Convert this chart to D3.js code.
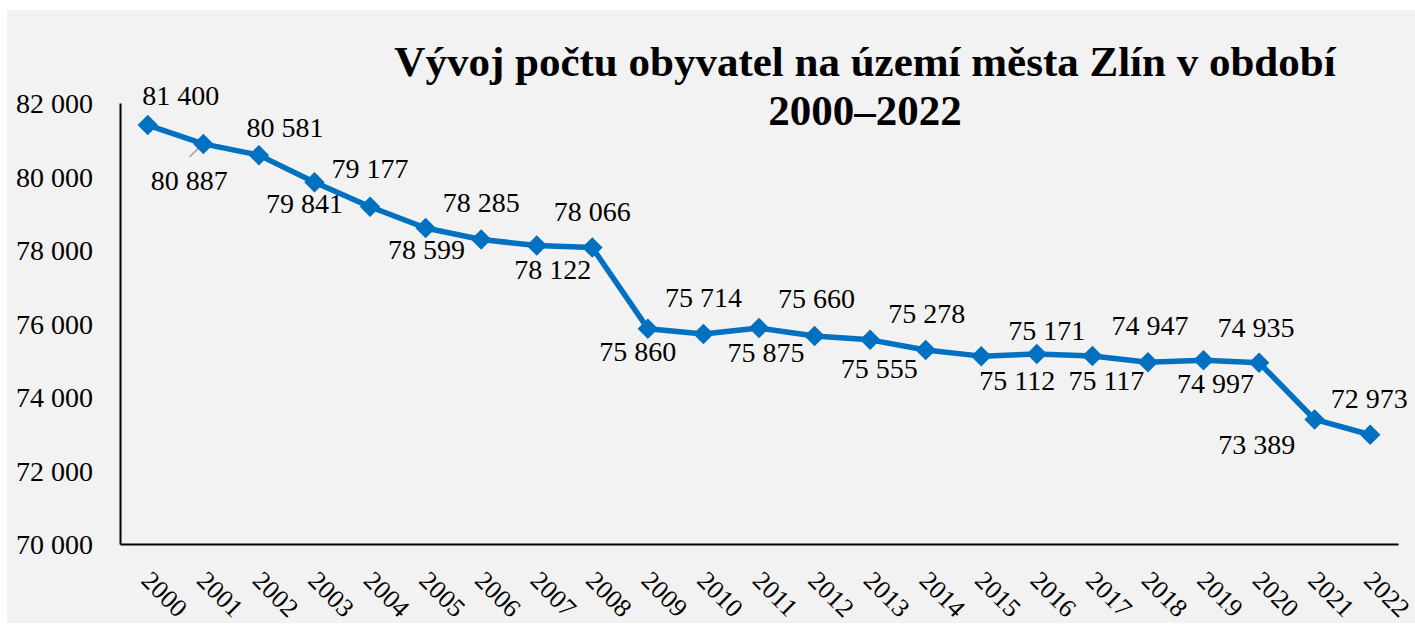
<!DOCTYPE html>
<html>
<head>
<meta charset="utf-8">
<script src="https://cdn.jsdelivr.net/npm/d3@7"></script>
<style>
  html, body { margin: 0; padding: 0; background: #ffffff; }
  svg { display: block; }
  svg text { font-family: "Liberation Serif", "Times New Roman", serif !important; fill: #000; }
</style>
</head>
<body>
<svg id="chart" width="1415" height="633"></svg>
<script>
// ---- data ----
const years = ["2000","2001","2002","2003","2004","2005","2006","2007","2008","2009","2010","2011",
               "2012","2013","2014","2015","2016","2017","2018","2019","2020","2021","2022"];
const population = [81400, 80887, 80581, 79841, 79177, 78599, 78285, 78122, 78066, 75860, 75714, 75875,
                    75660, 75555, 75278, 75112, 75171, 75117, 74947, 74997, 74935, 73389, 72973];
const yTicks = [70000, 72000, 74000, 76000, 78000, 80000, 82000];
const titleLines = ["Vývoj počtu obyvatel na území města Zlín v období", "2000–2022"];
// label placement offsets (pixels, relative to the point) – layout only
const labelDx = [33, -14, 26, -10, 0, 1, 0, 16, 0, -10, 0, 7, 2, 9, 1, 36, 10, 14, 2, 12, -3, -58, -1];
const labelDy = [-30, 36, -28, 21, -39, 21, -37, 24, -36, 23, -37, 24, -38, 28, -37, 24, -24, 24, -37, 23, -35, 25, -37];

// ---- layout ----
const W = 1415, H = 633;
const SERIF = "Liberation Serif, Times New Roman, serif";
const svg = d3.select("#chart");
const plot = { left: 120, right: 1398, top: 103, bottom: 544 };

svg.append("rect").attr("x", 7).attr("y", 10).attr("width", W - 7).attr("height", 613).attr("fill", "#f2f2f2");

const x = d3.scaleBand().domain(years).range([plot.left, plot.right]).padding(0);
const y = d3.scaleLinear().domain([70000, 82000]).range([plot.bottom, plot.top]);
const fmt = v => d3.format(",")(v).replace(/,/g, " ");
const cx = d => x(d) + x.bandwidth() / 2;

// title
const title = svg.append("text").attr("text-anchor", "middle").attr("font-family", SERIF)
  .style("font-weight", "bold").style("font-size", "43px");
title.selectAll("tspan").data(titleLines).enter().append("tspan")
  .attr("x", 865).attr("y", (d, i) => 76 + i * 49).text(d => d);

// y axis
const yAxis = d3.axisLeft(y).tickValues(yTicks).tickSize(0).tickPadding(27).tickFormat(fmt);
const gy = svg.append("g").attr("transform", `translate(${plot.left},0)`).call(yAxis)
  .attr("font-family", SERIF);
gy.select(".domain").attr("stroke", "#000").attr("stroke-width", 2);
gy.selectAll("text").style("font-size", "28px").attr("dy", "0.35em");

// x axis
const xAxis = d3.axisBottom(x).tickSize(0).tickPadding(0);
const gx = svg.append("g").attr("transform", `translate(0,${plot.bottom})`).call(xAxis)
  .attr("font-family", SERIF);
gx.select(".domain").attr("stroke", "#000").attr("stroke-width", 2);
gx.selectAll("text")
  .style("font-size", "26px")
  .attr("text-anchor", "start").attr("dy", null).attr("y", 0).attr("x", 0)
  .attr("transform", `translate(${-x.bandwidth()/2 + 20},38) rotate(45)`);

// leader line for 2001
svg.append("line")
  .attr("x1", cx(years[1])).attr("y1", y(population[1]))
  .attr("x2", cx(years[1]) - 14).attr("y2", y(population[1]) + 13)
  .attr("stroke", "#a6a6a6").attr("stroke-width", 1.5);

// line
const line = d3.line().x((d, i) => cx(years[i])).y(d => y(d));
svg.append("path").datum(population).attr("d", line)
  .attr("fill", "none").attr("stroke", "#0070c0").attr("stroke-width", 5.5).attr("stroke-linejoin", "round");

// markers
const sym = d3.symbol().type(d3.symbolSquare).size(210);
svg.selectAll(".mk").data(population).enter().append("path")
  .attr("d", sym)
  .attr("transform", (d, i) => `translate(${cx(years[i])},${y(d)}) rotate(45)`)
  .attr("fill", "#0070c0");

// data labels
svg.selectAll(".lbl").data(population).enter().append("text")
  .attr("font-family", SERIF)
  .attr("x", (d, i) => cx(years[i]) + labelDx[i])
  .attr("y", (d, i) => y(d) + labelDy[i])
  .attr("dy", "0.35em")
  .attr("text-anchor", "middle")
  .style("font-size", "28px")
  .text(d => fmt(d));
</script>
</body>
</html>
